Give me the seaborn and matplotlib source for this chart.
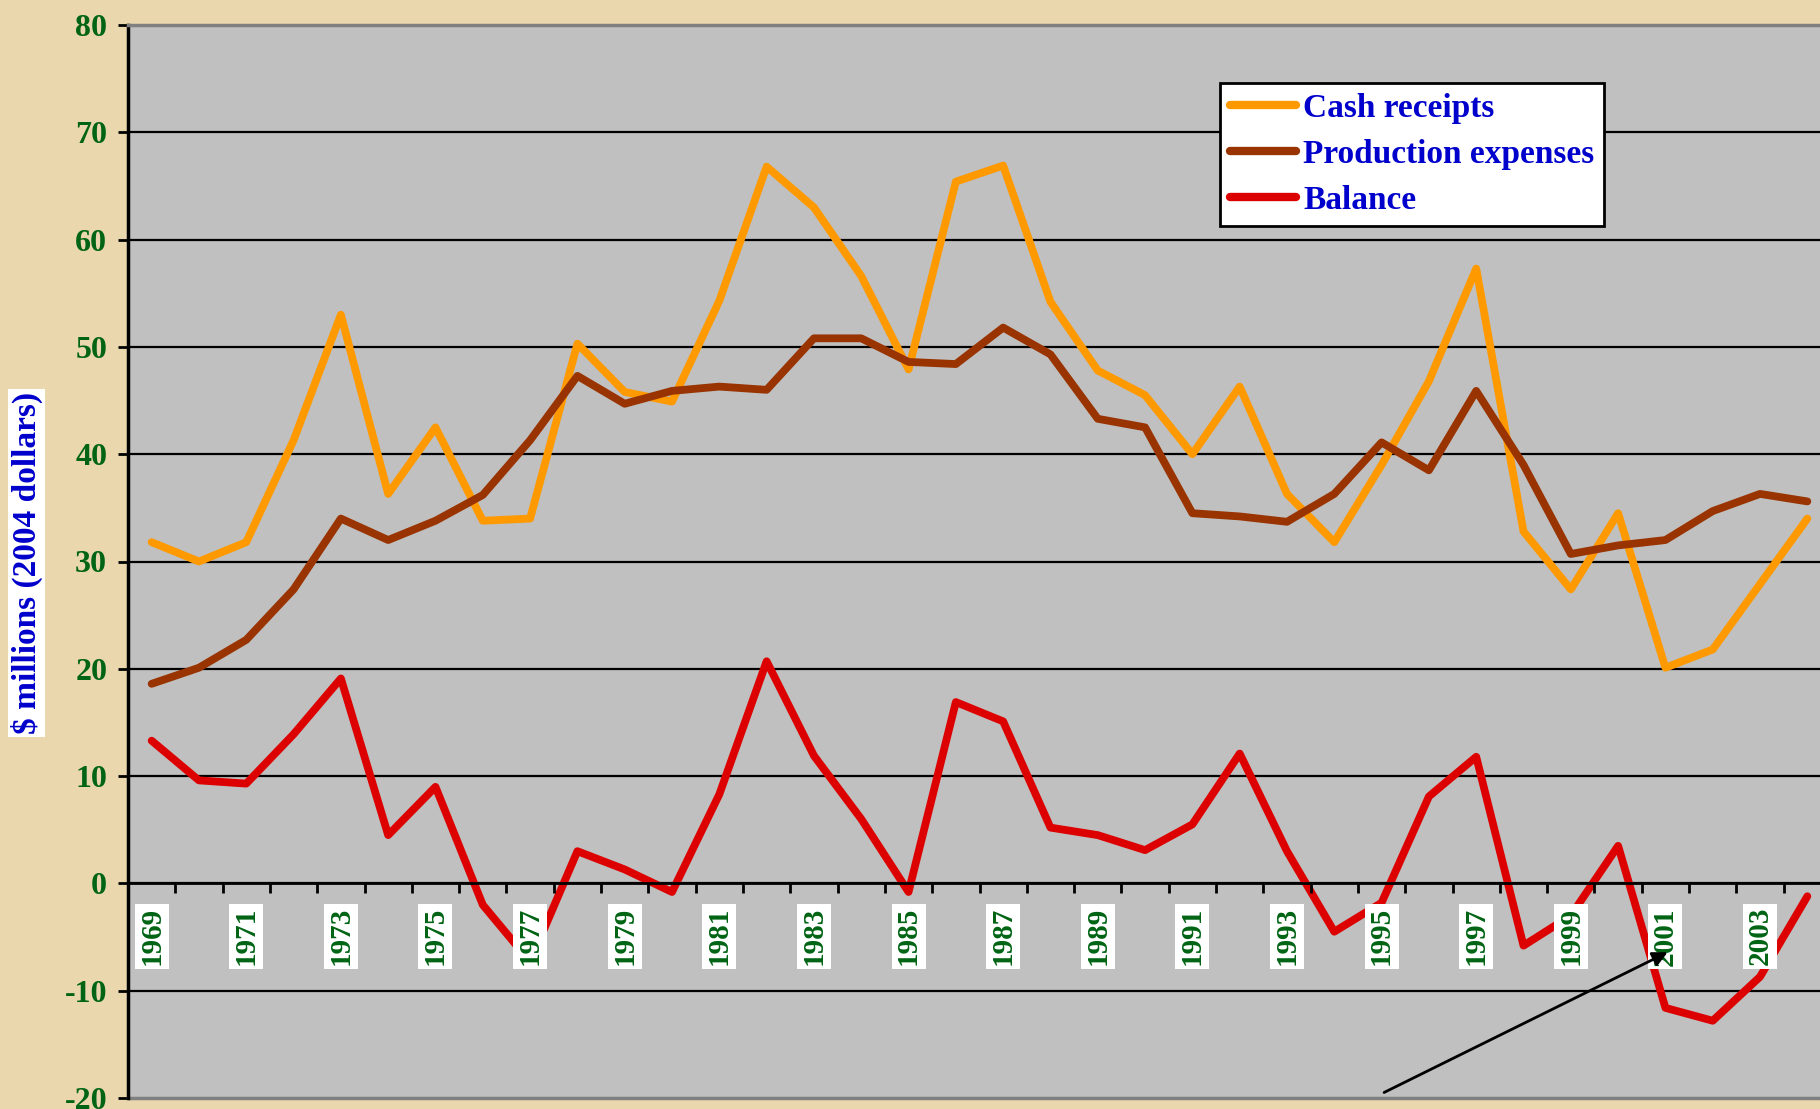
import numpy as np
import pandas as pd
import matplotlib
matplotlib.use('Agg')
import matplotlib.pyplot as plt
from matplotlib.lines import Line2D
import seaborn as sns

years = list(range(1969, 2005))
cash_receipts = [31.8, 30.0, 31.8, 41.3, 53.0, 36.3, 42.5, 33.8, 34.0, 50.3,
                 45.8, 44.9, 54.3, 66.8, 63.0, 56.6, 47.9, 65.4, 66.9, 54.2,
                 47.8, 45.5, 40.0, 46.3, 36.3, 31.8, 39.0, 46.8, 57.3, 32.8,
                 27.4, 34.5, 20.1, 21.8, 27.9, 34.0]
production_expenses = [18.6, 20.1, 22.7, 27.4, 34.0, 32.0, 33.8, 36.2, 41.3, 47.3,
                       44.7, 45.9, 46.3, 46.0, 50.8, 50.8, 48.6, 48.4, 51.8, 49.3,
                       43.3, 42.5, 34.5, 34.2, 33.7, 36.3, 41.1, 38.5, 45.9, 39.0,
                       30.7, 31.5, 32.0, 34.7, 36.3, 35.6]
balance = [13.3, 9.6, 9.3, 13.9, 19.1, 4.5, 9.0, -2.0, -7.3, 3.0,
           1.3, -0.8, 8.3, 20.7, 11.9, 6.0, -0.8, 16.9, 15.1, 5.2,
           4.5, 3.1, 5.5, 12.1, 3.0, -4.5, -1.8, 8.1, 11.8, -5.8,
           -3.0, 3.5, -11.6, -12.8, -8.7, -1.2]
series_names = ["Cash receipts", "Production expenses", "Balance"]
series_colors = ["#FF9900", "#993300", "#DD0000"]
y_ticks = list(range(-20, 81, 10))
x_labels = [str(y) for y in years if y % 2 == 1]
y_label = "$ millions (2004 dollars)"

df = pd.DataFrame({
    "year": years * 3,
    "value": cash_receipts + production_expenses + balance,
    "series": [series_names[0]] * len(years) + [series_names[1]] * len(years)
              + [series_names[2]] * len(years),
})

sns.set_theme(style="white")
plt.rcParams['font.family'] = ['Liberation Serif', 'DejaVu Serif']

W, H = 1820, 1109
fig = plt.figure(figsize=(W / 100, H / 100), dpi=100)
fig.patch.set_facecolor("#EBD7AE")

left_px, right_px, top_px, bot_px = 128, 1831, 25, 1098
ax = fig.add_axes([left_px / W, 1 - bot_px / H, (right_px - left_px) / W, (bot_px - top_px) / H])
ax.set_facecolor("#C0C0C0")

green = "#006414"
blue = "#0000CC"

# spine positions first (moving a spine resets its ticks)
ax.spines["bottom"].set_position(("data", 0))
ax.spines["bottom"].set_color("black")
ax.spines["bottom"].set_linewidth(2)
ax.spines["left"].set_color("black")
ax.spines["left"].set_linewidth(2.5)
ax.spines["top"].set_color("#808080")
ax.spines["top"].set_linewidth(2.5)
ax.spines["right"].set_visible(False)

for yv in y_ticks:
    if yv not in (-20, 80):
        ax.axhline(yv, color="black", lw=1.6, zorder=1)
ax.axhline(-20, color="#808080", lw=2.5, zorder=1, clip_on=False)

sns.lineplot(data=df, x="year", y="value", hue="series", palette=dict(zip(series_names, series_colors)),
             hue_order=series_names, linewidth=5.6, ax=ax, sort=False, legend=False,
             solid_joinstyle="round", solid_capstyle="round", zorder=2)

ax.set_xlim(years[0] - 0.5, years[-1] + 0.5)
ax.set_ylim(-20, 80)
ax.set_xlabel("")
ax.set_ylabel("")
ax.set_yticks(y_ticks)
ax.set_yticklabels([str(v) for v in y_ticks], color=green, fontsize=23, fontweight="bold")
ax.tick_params(axis="y", direction="out", length=7, width=2, color="black", pad=8, left=True)

ax.set_xticks([y for y in years if y % 2 == 1])
ax.set_xticks(np.arange(years[0] - 0.5, years[-1] + 1.0, 1.0), minor=True)
ax.tick_params(axis="x", which="major", length=0, pad=17, bottom=True)
ax.tick_params(axis="x", which="minor", direction="out", length=7, width=2, color="black", bottom=True)
ax.set_xticklabels(x_labels, rotation=90, color=green, fontsize=21, fontweight="bold",
                   va="top", ha="center")
for lab in ax.get_xticklabels():
    lab.set_bbox(dict(facecolor="white", edgecolor="none", boxstyle="square,pad=0.12"))
ax.xaxis.set_zorder(4)

handles = [Line2D([0], [0], color=c, lw=6, solid_capstyle="round") for c in series_colors]
leg = ax.legend(handles, series_names, loc="upper left", bbox_to_anchor=(0.641, 0.946),
                borderaxespad=0, frameon=True, fancybox=False, framealpha=1,
                prop={"family": "Liberation Serif", "weight": "bold", "size": 24},
                handlelength=2.0, handletextpad=0.2, labelspacing=0.45,
                borderpad=0.3)
leg.get_frame().set_edgecolor("black")
leg.get_frame().set_linewidth(2)
for t in leg.get_texts():
    t.set_color(blue)
leg.set_zorder(5)

ax.annotate("", xy=(2001.1, -6.3), xytext=(1995.0, -19.6),
            arrowprops=dict(arrowstyle="-|>", color="black", lw=2, mutation_scale=22), zorder=6)

fig.text(26.5 / W, 1 - 563 / H, y_label, rotation=90, color=blue, fontsize=24, fontweight="bold",
         ha="center", va="center",
         bbox=dict(facecolor="white", edgecolor="none", boxstyle="square,pad=0.08"))

fig.savefig("out.png", dpi=100, facecolor=fig.get_facecolor())
